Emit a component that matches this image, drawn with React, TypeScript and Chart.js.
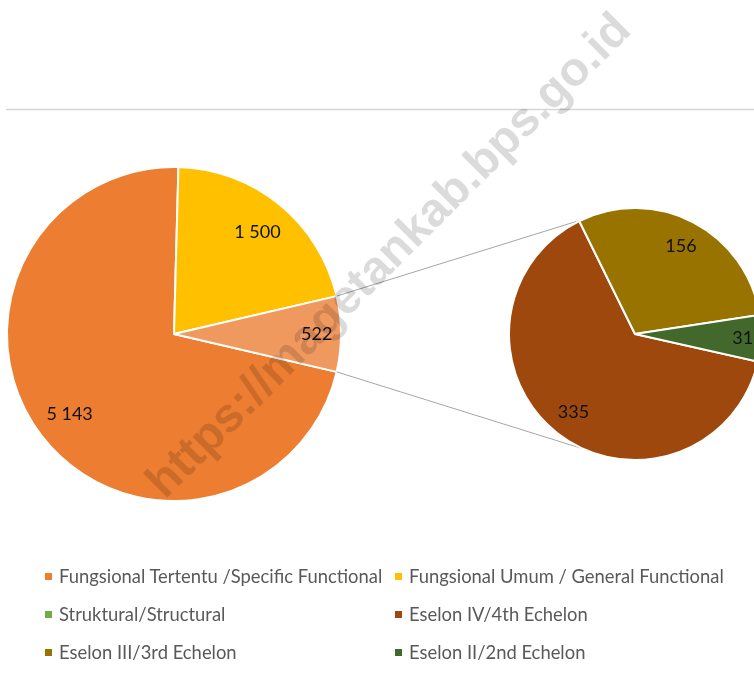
import React, { useEffect, useRef } from "react";
import { Chart, registerables } from "chart.js";

Chart.register(...registerables);

// ---------- data ----------
const mainCategories = [
  "Fungsional Tertentu /Specific Functional",
  "Fungsional Umum / General Functional",
  "Struktural/Structural",
];
const mainValues = [5143, 1500, 522];
const mainColors = ["#ED7D31", "#FFC000", "#F0995F"];

const subCategories = ["Eselon IV/4th Echelon", "Eselon III/3rd Echelon", "Eselon II/2nd Echelon"];
const subValues = [335, 156, 31];
const subColors = ["#9E480E", "#997300", "#43682B"];

const legendLabels = [
  "Fungsional Tertentu /Specific Functional",
  "Fungsional Umum / General Functional",
  "Struktural/Structural",
  "Eselon IV/4th Echelon",
  "Eselon III/3rd Echelon",
  "Eselon II/2nd Echelon",
];
const legendColors = ["#ED7D31", "#FFC000", "#70AD47", "#9E480E", "#997300", "#43682B"];

const watermarkText = "https://magetankab.bps.go.id";

const W = 754;
const H = 679;

const fmt = (v: number) => String(v).replace(/\B(?=(\d{3})+(?!\d))/g, " ");

const sum = (a: number[]) => a.reduce((s, v) => s + v, 0);

// plugin: value labels inside slices
const labelPlugin = {
  id: "sliceLabels",
  afterDatasetsDraw(chart: any) {
    const ctx = chart.ctx;
    const meta = chart.getDatasetMeta(0);
    const data = chart.data.datasets[0].data as number[];
    ctx.save();
    ctx.font = "18px Lato";
    ctx.fillStyle = "#111111";
    ctx.textAlign = "center";
    ctx.textBaseline = "middle";
    meta.data.forEach((arc: any, i: number) => {
      const p = arc.getProps(["x", "y", "startAngle", "endAngle", "outerRadius"], true);
      const span = p.endAngle - p.startAngle;
      const f = span < 0.6 ? 0.855 : 0.79;
      const mid = (p.startAngle + p.endAngle) / 2;
      const r = p.outerRadius * f;
      ctx.fillText(fmt(data[i]), p.x + r * Math.cos(mid), p.y + r * Math.sin(mid));
    });
    ctx.restore();
  },
};

export default function App() {
  const leftRef = useRef<HTMLCanvasElement>(null);
  const rightRef = useRef<HTMLCanvasElement>(null);

  useEffect(() => {
    if (!leftRef.current || !rightRef.current) return;

    const mainTotal = sum(mainValues);
    const subTotal = sum(subValues);
    const mainRotation = 90 + ((mainValues[mainValues.length - 1] / mainTotal) * 360) / 2;
    const subRotation = 92 + ((subValues[subValues.length - 1] / subTotal) * 360) / 2;

    const left = new Chart(leftRef.current, {
      type: "pie",
      data: {
        labels: mainCategories,
        datasets: [
          {
            data: mainValues,
            backgroundColor: mainColors,
            borderColor: "#ffffff",
            borderWidth: 2,
            radius: 167,
          } as any,
        ],
      },
      options: {
        responsive: false,
        animation: false,
        rotation: mainRotation,
        layout: { padding: { left: 0, right: W - 348, top: 0, bottom: H - 668 } },
        plugins: { legend: { display: false }, tooltip: { enabled: false } },
        events: [],
      },
      plugins: [labelPlugin],
    });

    const overlayPlugin = {
      id: "overlay",
      beforeDatasetsDraw(chart: any) {
        const ctx = chart.ctx;
        ctx.save();
        // top divider line
        ctx.strokeStyle = "#d6d6d6";
        ctx.lineWidth = 1.5;
        ctx.beginPath();
        ctx.moveTo(6, 109.5);
        ctx.lineTo(W, 109.5);
        ctx.stroke();
        // connector lines
        const la = left.getDatasetMeta(0).data[mainValues.length - 1] as any;
        const lp = la.getProps(["x", "y", "startAngle", "endAngle", "outerRadius"], true);
        const ra = chart.getDatasetMeta(0).data[0] as any;
        const rp = ra.getProps(["x", "y", "outerRadius"], true);
        const tA = (-114.8 * Math.PI) / 180;
        const bA = (114.2 * Math.PI) / 180;
        ctx.strokeStyle = "#a5a5a5";
        ctx.lineWidth = 1;
        ctx.beginPath();
        ctx.moveTo(lp.x + lp.outerRadius * Math.cos(lp.startAngle), lp.y + lp.outerRadius * Math.sin(lp.startAngle));
        ctx.lineTo(rp.x + rp.outerRadius * Math.cos(tA), rp.y + rp.outerRadius * Math.sin(tA));
        ctx.moveTo(lp.x + lp.outerRadius * Math.cos(lp.endAngle), lp.y + lp.outerRadius * Math.sin(lp.endAngle));
        ctx.lineTo(rp.x + rp.outerRadius * Math.cos(bA), rp.y + rp.outerRadius * Math.sin(bA));
        ctx.stroke();
        ctx.restore();
      },
      afterDraw(chart: any) {
        const ctx = chart.ctx;
        ctx.save();
        let size = 44;
        ctx.font = `bold ${size}px "Liberation Sans", Arial, sans-serif`;
        const w = ctx.measureText(watermarkText).width;
        size = (size * 662) / w;
        ctx.font = `bold ${size}px "Liberation Sans", Arial, sans-serif`;
        ctx.translate(399, 266);
        ctx.rotate(-Math.PI / 4);
        ctx.fillStyle = "rgba(0,0,0,0.14)";
        ctx.textAlign = "center";
        ctx.textBaseline = "alphabetic";
        ctx.fillText(watermarkText, 0, 0);
        ctx.restore();
      },
    };

    const right = new Chart(rightRef.current, {
      type: "pie",
      data: {
        labels: subCategories,
        datasets: [
          {
            data: subValues,
            backgroundColor: subColors,
            borderColor: "#ffffff",
            borderWidth: 2,
            radius: 126,
          } as any,
        ],
      },
      options: {
        responsive: false,
        animation: false,
        rotation: subRotation,
        layout: { padding: { left: 516, right: 0, top: 208, bottom: H - 460 } },
        plugins: { legend: { display: false }, tooltip: { enabled: false } },
        events: [],
      },
      plugins: [labelPlugin, overlayPlugin],
    });

    return () => {
      right.destroy();
      left.destroy();
    };
  }, []);

  const rows = [576, 614, 652];
  const cols = [
    { sq: 45, tx: 59 },
    { sq: 395, tx: 409 },
  ];

  return (
    <div
      style={{
        position: "absolute",
        left: 0,
        top: 0,
        width: W,
        height: H,
        overflow: "hidden",
        background: "#ffffff",
      }}
    >
      <canvas ref={leftRef} width={W} height={H} style={{ position: "absolute", left: 0, top: 0, display: "block" }} />
      <canvas ref={rightRef} width={W} height={H} style={{ position: "absolute", left: 0, top: 0, display: "block" }} />
      {legendLabels.map((lab, i) => {
        const r = rows[Math.floor(i / 2)];
        const c = cols[i % 2];
        return (
          <React.Fragment key={lab}>
            <div
              style={{
                position: "absolute",
                left: c.sq,
                top: r - 3,
                width: 7,
                height: 7,
                background: legendColors[i],
              }}
            />
            <div
              style={{
                position: "absolute",
                left: c.tx,
                top: r - 12,
                height: 24,
                lineHeight: "24px",
                fontFamily: "Lato, sans-serif",
                fontSize: 18.4,
                color: "#595959",
                whiteSpace: "nowrap",
              }}
            >
              {lab}
            </div>
          </React.Fragment>
        );
      })}
    </div>
  );
}
